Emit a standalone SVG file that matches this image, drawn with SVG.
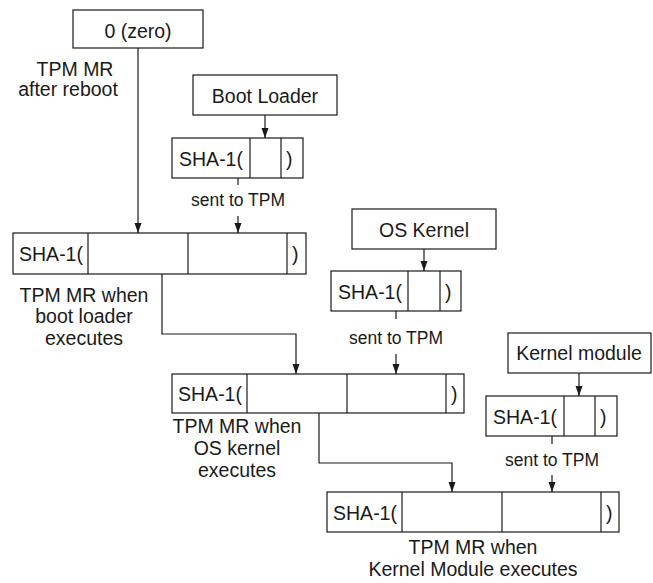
<svg xmlns="http://www.w3.org/2000/svg" width="653" height="583" viewBox="0 0 653 583">
<style>
  .box { fill: #ffffff; stroke: #1a1a1a; stroke-width: 1.2; }
  .div { stroke: #1a1a1a; stroke-width: 1.2; }
  .t { font-family: "Liberation Sans", Arial, sans-serif; font-size: 19.5px; fill: #1a1a1a; }
  .s { font-family: "Liberation Sans", Arial, sans-serif; font-size: 17.5px; fill: #1a1a1a; }
  .m { text-anchor: middle; }
  .c { fill: none; stroke: #1a1a1a; stroke-width: 1.2; }
</style>
<defs>
  <marker id="ah" markerUnits="userSpaceOnUse" markerWidth="10" markerHeight="8" refX="10" refY="4" orient="auto">
    <path d="M0,0.5 L10,4 L0,7.5 z" fill="#1a1a1a"/>
  </marker>
</defs>
<rect width="653" height="583" fill="#ffffff"/>

<g id="connectors">
  <line class="c" x1="138" y1="48" x2="138" y2="233" marker-end="url(#ah)"/>
  <line class="c" x1="265" y1="114" x2="265" y2="138" marker-end="url(#ah)"/>
  <line class="c" x1="238" y1="178" x2="238" y2="185"/>
  <line class="c" x1="238" y1="216" x2="238" y2="233" marker-end="url(#ah)"/>
  <path class="c" d="M162,274 V334 H296 V374" marker-end="url(#ah)"/>
  <line class="c" x1="424" y1="249" x2="424" y2="271" marker-end="url(#ah)"/>
  <line class="c" x1="396" y1="311" x2="396" y2="319"/>
  <line class="c" x1="396" y1="354" x2="396" y2="374" marker-end="url(#ah)"/>
  <path class="c" d="M319,413 V463 H452 V492" marker-end="url(#ah)"/>
  <line class="c" x1="579" y1="373" x2="579" y2="396" marker-end="url(#ah)"/>
  <line class="c" x1="552" y1="436" x2="552" y2="444"/>
  <line class="c" x1="552" y1="475" x2="552" y2="492" marker-end="url(#ah)"/>
</g>

<g id="zero">
  <rect class="box" x="73" y="10" width="130" height="38"/>
  <text class="t m" x="138" y="38">0 (zero)</text>
</g>
<g id="label-after-reboot">
  <text class="t m" x="75" y="76">TPM MR</text>
  <text class="t m" x="68" y="96">after reboot</text>
</g>

<g id="boot-loader">
  <rect class="box" x="193" y="75" width="144" height="40"/>
  <text class="t m" x="265" y="103">Boot Loader</text>
</g>
<g id="sha-boot">
  <rect class="box" x="172" y="138" width="131" height="40"/>
  <line class="div" x1="250" y1="138" x2="250" y2="178"/>
  <line class="div" x1="281" y1="138" x2="281" y2="178"/>
  <text class="t m" x="211" y="166">SHA-1(</text>
  <text class="t" x="286" y="166">)</text>
</g>
<text class="s m" x="238" y="206">sent to TPM</text>

<g id="mr-boot">
  <rect class="box" x="13" y="233" width="293" height="41"/>
  <line class="div" x1="88" y1="233" x2="88" y2="274"/>
  <line class="div" x1="188" y1="233" x2="188" y2="274"/>
  <line class="div" x1="287" y1="233" x2="287" y2="274"/>
  <text class="t m" x="51" y="261">SHA-1(</text>
  <text class="t" x="292" y="261">)</text>
</g>
<g id="label-mr-boot">
  <text class="t m" x="84" y="302">TPM MR when</text>
  <text class="t m" x="84" y="323">boot loader</text>
  <text class="t m" x="84" y="345">executes</text>
</g>

<g id="os-kernel">
  <rect class="box" x="352" y="209" width="144" height="40"/>
  <text class="t m" x="424" y="237">OS Kernel</text>
</g>
<g id="sha-os">
  <rect class="box" x="331" y="271" width="130" height="40"/>
  <line class="div" x1="408" y1="271" x2="408" y2="311"/>
  <line class="div" x1="440" y1="271" x2="440" y2="311"/>
  <text class="t m" x="370" y="299">SHA-1(</text>
  <text class="t" x="445" y="299">)</text>
</g>
<text class="s m" x="396" y="344">sent to TPM</text>

<g id="mr-os">
  <rect class="box" x="172" y="374" width="292" height="39"/>
  <line class="div" x1="247" y1="374" x2="247" y2="413"/>
  <line class="div" x1="347" y1="374" x2="347" y2="413"/>
  <line class="div" x1="446" y1="374" x2="446" y2="413"/>
  <text class="t m" x="210" y="401">SHA-1(</text>
  <text class="t" x="451" y="401">)</text>
</g>
<g id="label-mr-os">
  <text class="t m" x="237" y="433">TPM MR when</text>
  <text class="t m" x="237" y="455">OS kernel</text>
  <text class="t m" x="237" y="477">executes</text>
</g>

<g id="kernel-module">
  <rect class="box" x="508" y="333" width="143" height="40"/>
  <text class="t m" x="579" y="360">Kernel module</text>
</g>
<g id="sha-km">
  <rect class="box" x="486" y="396" width="131" height="40"/>
  <line class="div" x1="564" y1="396" x2="564" y2="436"/>
  <line class="div" x1="595" y1="396" x2="595" y2="436"/>
  <text class="t m" x="525" y="424">SHA-1(</text>
  <text class="t" x="600" y="424">)</text>
</g>
<text class="s m" x="552" y="466">sent to TPM</text>

<g id="mr-km">
  <rect class="box" x="327" y="492" width="292" height="40"/>
  <line class="div" x1="402" y1="492" x2="402" y2="532"/>
  <line class="div" x1="502" y1="492" x2="502" y2="532"/>
  <line class="div" x1="601" y1="492" x2="601" y2="532"/>
  <text class="t m" x="365" y="520">SHA-1(</text>
  <text class="t" x="606" y="520">)</text>
</g>
<g id="label-mr-km">
  <text class="t m" x="473" y="554">TPM MR when</text>
  <text class="t m" x="473" y="576">Kernel Module executes</text>
</g>
</svg>
